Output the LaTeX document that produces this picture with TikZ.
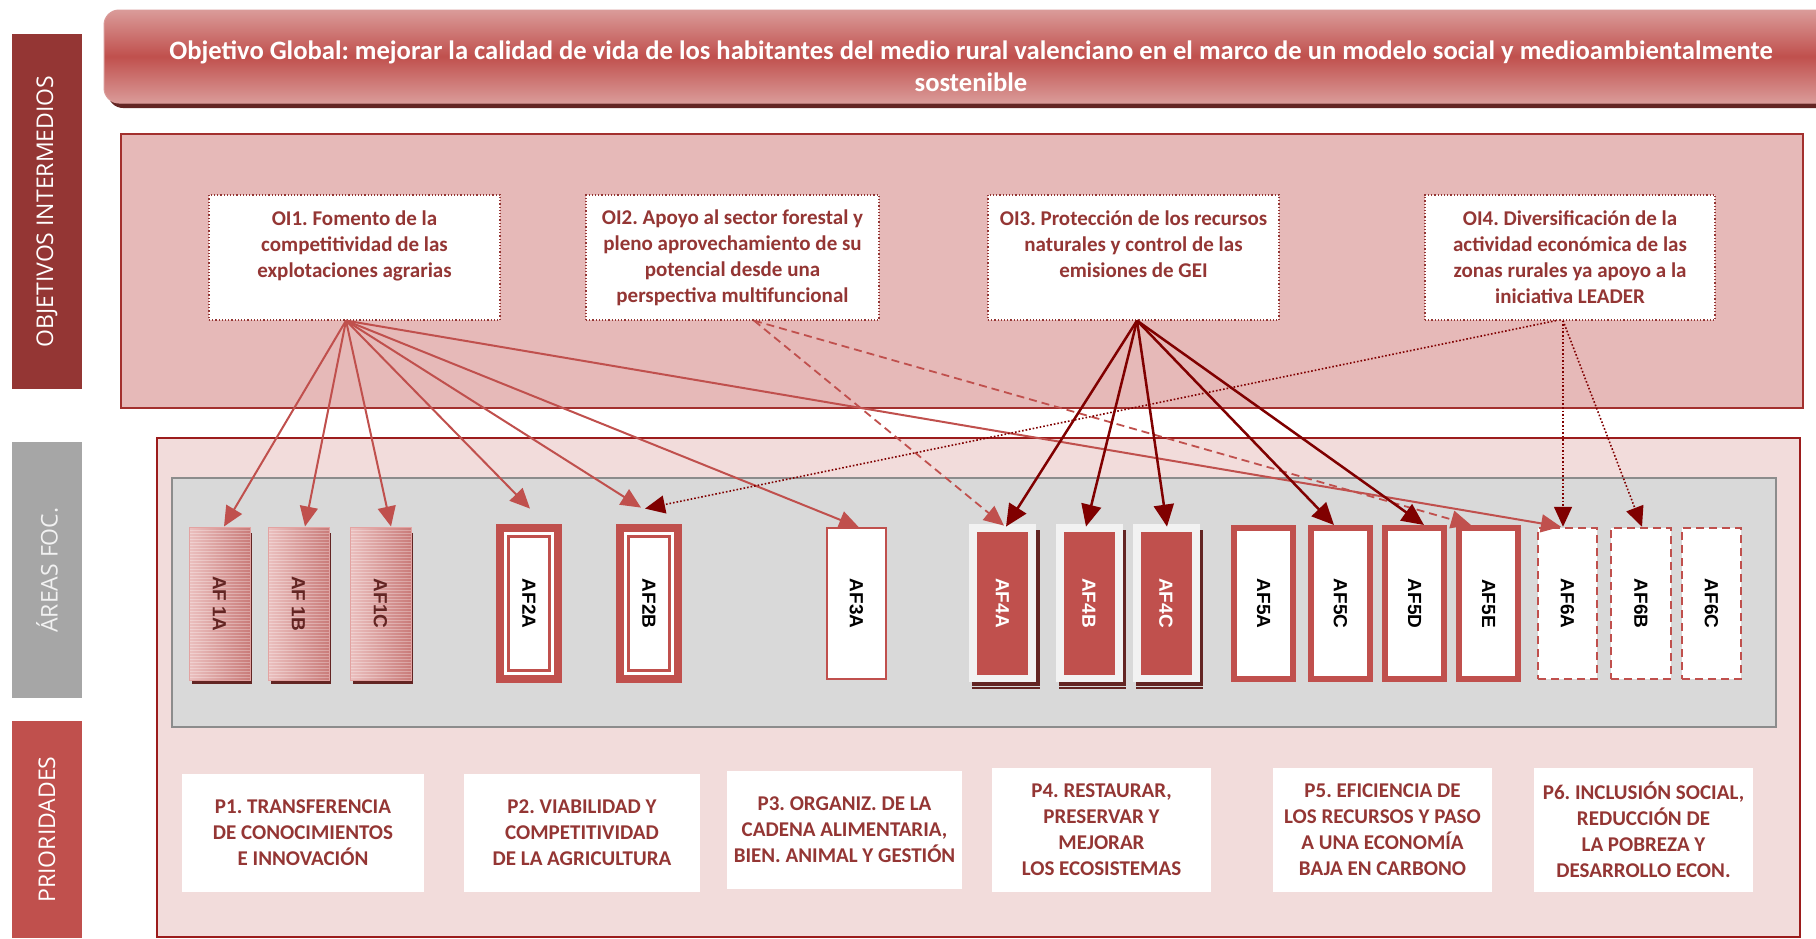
\documentclass[tikz,border=0pt]{standalone}
\usepackage{fontspec}
\usepackage{graphicx}
\setmainfont{Carlito}
\newfontfamily\barfont{Open Sans}
\newfontfamily\affont{Liberation Sans}
\usetikzlibrary{arrows.meta}
\frenchspacing
\definecolor{darkred}{HTML}{943634}
\definecolor{midred}{HTML}{C0504D}
\definecolor{maroonc}{HTML}{800000}
\definecolor{pinkpanel}{HTML}{E6B9B8}
\definecolor{lightpink}{HTML}{F2DCDB}
\definecolor{grayfill}{HTML}{D9D9D9}
\definecolor{grayedge}{HTML}{8C8C8C}
\definecolor{shadowred}{HTML}{632523}
\definecolor{offwhite}{HTML}{F2F2F2}
\definecolor{bargray}{HTML}{A6A6A6}
\definecolor{titlelight}{HTML}{DA9B99}
\definecolor{frameborder}{HTML}{9C1C1C}
\definecolor{panelborder}{HTML}{A3302E}
\definecolor{afonel}{HTML}{EBC0BF}
\definecolor{afoner}{HTML}{C97B79}
\definecolor{afoneedge}{HTML}{E3A3A2}
\newdimen\px \px=0.5pt
\tikzset{
  sidebar/.style={inner sep=0pt, minimum width=70\px, text=white,
    font=\barfont\fontsize{11.5}{13}\selectfont},
  oibox/.style={draw=darkred, densely dotted, line width=0.6pt, fill=white,
    minimum width=291\px, minimum height=125\px, inner sep=0pt, align=center,
    font=\bfseries\fontsize{10.5}{13}\selectfont, text=darkred},
  pbox/.style={fill=white, inner sep=0pt, align=center,
    font=\bfseries\fontsize{10.5}{13}\selectfont, text=darkred},
  aftext/.style={font=\affont\bfseries\fontsize{9.5}{11}\selectfont},
  afone/.style={aftext, minimum width=61\px, minimum height=153\px, inner sep=0pt,
    left color=afonel, right color=afoner, draw=afoneedge, line width=1\px, text=shadowred,
    path picture={\foreach \k in {1,...,52}{\draw[white,opacity=0.3,line width=0.8\px]
      ([yshift=-\k*1.5pt]path picture bounding box.north west) --
      ([yshift=-\k*1.5pt]path picture bounding box.north east);}}},
  aftwo/.style={aftext, minimum width=66\px, minimum height=159\px, inner sep=0pt,
    fill=midred, text=black,
    path picture={\fill[white] ([shift={(4pt,-4pt)}]path picture bounding box.north west)
      rectangle ([shift={(-4pt,4pt)}]path picture bounding box.south east);
      \draw[midred,line width=1.5pt] ([shift={(6.25pt,-6.25pt)}]path picture bounding box.north west)
      rectangle ([shift={(-6.25pt,6.25pt)}]path picture bounding box.south east);}},
  afthree/.style={aftext, minimum width=59\px, minimum height=151\px, inner sep=0pt,
    fill=white, draw=midred, line width=1.2\px, text=black},
  affour/.style={aftext, minimum width=67\px, minimum height=158\px, inner sep=0pt,
    fill=offwhite, text=white,
    path picture={\fill[midred] ([shift={(4pt,-4pt)}]path picture bounding box.north west)
      rectangle ([shift={(-4pt,3.5pt)}]path picture bounding box.south east);}},
  affive/.style={aftext, minimum width=59\px, minimum height=151\px, inner sep=0pt,
    fill=white, draw=midred, line width=6\px, text=black},
  afsix/.style={aftext, minimum width=59\px, minimum height=151\px, inner sep=0pt,
    fill=white, draw=midred, line width=2.5\px, dash pattern=on 4pt off 2.5pt, text=black},
  aone/.style={draw=midred, line width=1pt, -{Triangle[length=10pt,width=9pt]}},
  atwo/.style={draw=midred, line width=0.9pt, dash pattern=on 4pt off 2.5pt,
    -{Triangle[length=10pt,width=9pt]}},
  athree/.style={draw=maroonc, line width=1.25pt, -{Triangle[length=11pt,width=10pt]}},
  afourarr/.style={draw=maroonc, line width=0.8pt, dash pattern=on 0.8pt off 1pt,
    -{Triangle[length=10pt,width=9pt]}},
}
\begin{document}
\begin{tikzpicture}[x=0.5pt, y=-0.5pt]
\useasboundingbox (0,0) rectangle (1816,938);
\fill[white] (0,0) rectangle (1816,938);

% side bars
\node[sidebar, fill=darkred, minimum height=355\px] (barobj) at (47,211.5)
  {\rotatebox{90}{OBJETIVOS INTERMEDIOS}};
\node[sidebar, fill=bargray, minimum height=256\px, text=offwhite] (barareas) at (47,570)
  {\rotatebox{90}{ÁREAS FOC.}};
\node[sidebar, fill=midred, minimum height=217\px] (barprio) at (47,829.5)
  {\rotatebox{90}{PRIORIDADES}};

% title
\fill[shadowred, rounded corners=7.5pt] (108,16) rectangle (1850,108);
\node[rounded corners=7.5pt, draw=titlelight, line width=1\px,
  top color=titlelight, bottom color=titlelight, middle color=midred,
  minimum width=1742\px, minimum height=93\px, inner sep=0pt] (title) at (975,56.5) {};
\node[text=white, align=center, font=\bfseries\fontsize{13.3}{16}\selectfont] (titletext) at (971,66)
  {Objetivo Global: mejorar la calidad de vida de los habitantes del medio rural valenciano en el marco de un modelo social y medioambientalmente\\sostenible};

% panels
\node[fill=pinkpanel, draw=panelborder, line width=2\px, minimum width=1682\px,
  minimum height=274\px, inner sep=0pt] (oipanel) at (962,271) {};
\node[fill=lightpink, draw=frameborder, line width=2.5\px, minimum width=1643\px,
  minimum height=499\px, inner sep=0pt] (frame) at (978.5,687.5) {};
\node[fill=grayfill, draw=grayedge, line width=2\px, minimum width=1604\px,
  minimum height=249\px, inner sep=0pt] (graypanel) at (974,602.5) {};

% objetivos intermedios
\node[oibox] (oi1) at (354.5,257.5) {OI1. Fomento de la\\competitividad de las\\explotaciones agrarias\\\mbox{}};
\node[oibox, minimum width=293\px] (oi2) at (732.5,257.5) {OI2. Apoyo al sector forestal y\\pleno aprovechamiento de su\\potencial desde una\\perspectiva multifuncional};
\node[oibox] (oi3) at (1133.5,257.5) {OI3. Protección de los recursos\\naturales y control de las\\emisiones de GEI\\\mbox{}};
\node[oibox, minimum width=290\px] (oi4) at (1570,257.5) {OI4. Diversificación de la\\actividad económica de las\\zonas rurales ya apoyo a la\\iniciativa LEADER};

% AF1 shadows and boxes
\fill[shadowred] (192,533) rectangle (251.5,684);
\fill[shadowred] (271,533) rectangle (330.5,684);
\fill[shadowred] (353,533) rectangle (412.5,684);
\node[afone] (af1a) at (219.5,603.5) {\rotatebox{-90}{AF 1A}};
\node[afone] (af1b) at (298.5,603.5) {\rotatebox{-90}{AF 1B}};
\node[afone] (af1c) at (380.5,603.5) {\rotatebox{-90}{AF1C}};

\node[aftwo] (af2a) at (529,603.5) {\rotatebox{-90}{AF2A}};
\node[aftwo] (af2b) at (649,603.5) {\rotatebox{-90}{AF2B}};

\node[afthree] (af3a) at (856.5,603.5) {\rotatebox{-90}{AF3A}};

% AF4 shadows and boxes
\foreach \cx in {1002.5,1089,1166}{
  \fill[shadowred] (\cx-30.5,530) rectangle (\cx+37,689);
  \draw[grayfill, line width=1\px] (\cx-30.5,686) -- (\cx+37,686);
}
\node[affour] (af4a) at (1002.5,603) {\rotatebox{-90}{AF4A}};
\node[affour] (af4b) at (1089,603) {\rotatebox{-90}{AF4B}};
\node[affour] (af4c) at (1166,603) {\rotatebox{-90}{AF4C}};

\node[affive] (af5a) at (1263.5,603.5) {\rotatebox{-90}{AF5A}};
\node[affive] (af5c) at (1340.5,603.5) {\rotatebox{-90}{AF5C}};
\node[affive] (af5d) at (1414.5,603.5) {\rotatebox{-90}{AF5D}};
\node[affive] (af5e) at (1488.5,603.5) {\rotatebox{-90}{AF5E}};

\node[afsix] (af6a) at (1567.5,603.5) {\rotatebox{-90}{AF6A}};
\node[afsix, minimum width=60\px] (af6b) at (1641,603.5) {\rotatebox{-90}{AF6B}};
\node[afsix] (af6c) at (1711.5,603.5) {\rotatebox{-90}{AF6C}};

% prioridades
\node[pbox, minimum width=242\px, minimum height=118\px] (p1) at (303,833)
  {P1. TRANSFERENCIA\\DE CONOCIMIENTOS\\E INNOVACIÓN};
\node[pbox, minimum width=236\px, minimum height=118\px] (p2) at (582,833)
  {P2. VIABILIDAD Y\\COMPETITIVIDAD\\DE LA AGRICULTURA};
\node[pbox, minimum width=235\px, minimum height=118\px] (p3) at (844.5,830)
  {P3. ORGANIZ. DE LA\\CADENA ALIMENTARIA,\\BIEN. ANIMAL Y GESTIÓN};
\node[pbox, minimum width=219\px, minimum height=124\px] (p4) at (1101.5,830)
  {P4. RESTAURAR,\\PRESERVAR Y\\MEJORAR\\LOS ECOSISTEMAS};
\node[pbox, minimum width=219\px, minimum height=124\px] (p5) at (1382.5,830)
  {P5. EFICIENCIA DE\\LOS RECURSOS Y PASO\\A UNA ECONOMÍA\\BAJA EN CARBONO};
\node[pbox, minimum width=219\px, minimum height=124\px] (p6) at (1643.5,830)
  {P6. INCLUSIÓN SOCIAL,\\REDUCCIÓN DE\\LA POBREZA Y\\DESARROLLO ECON.};

% arrows OI1
\draw[aone] ([xshift=-4.25pt]oi1.south) -- ([xshift=2.25pt]af1a.north);
\draw[aone] ([xshift=-4.25pt]oi1.south) -- ([xshift=3.25pt]af1b.north);
\draw[aone] ([xshift=-4.25pt]oi1.south) -- ([xshift=5.25pt]af1c.north);
\draw[aone] ([xshift=-4.25pt]oi1.south) -- ([xshift=0.5pt,yshift=7.5pt]af2a.north);
\draw[aone] ([xshift=-4.25pt]oi1.south) -- ([xshift=-4pt,yshift=8pt]af2b.north);
\draw[aone] ([xshift=-4.25pt]oi1.south) -- ([xshift=1.25pt]af3a.north);
\draw[aone] ([xshift=-4.25pt]oi1.south) -- ([xshift=-3.25pt]af6a.north);
% arrows OI2
\draw[atwo] ([xshift=10.75pt]oi2.south) -- ([xshift=0.75pt,yshift=-1pt]af4a.north);
\draw[atwo] ([xshift=10.75pt]oi2.south) -- ([xshift=-8.75pt]af5e.north);
% arrows OI3
\draw[athree] ([xshift=1.75pt]oi3.south) -- ([xshift=1.75pt,yshift=-1.5pt]af4a.north);
\draw[athree] ([xshift=1.75pt]oi3.south) -- ([xshift=-1.5pt,yshift=-1.5pt]af4b.north);
\draw[athree] ([xshift=1.75pt]oi3.south) -- ([xshift=0.5pt,yshift=-1.5pt]af4c.north);
\draw[athree] ([xshift=1.75pt]oi3.south) -- ([xshift=-3.25pt]af5c.north);
\draw[athree] ([xshift=1.75pt]oi3.south) -- ([xshift=4.75pt]af5d.north);
% arrows OI4
\draw[afourarr] ([xshift=-3.5pt]oi4.south) -- ([xshift=-2.25pt]af6a.north);
\draw[afourarr] ([xshift=-3.5pt]oi4.south) -- ([xshift=0.5pt]af6b.north);
\draw[afourarr] ([xshift=-7pt]oi4.south) -- ([xshift=-2pt,yshift=7.5pt]af2b.north);
\end{tikzpicture}
\end{document}
